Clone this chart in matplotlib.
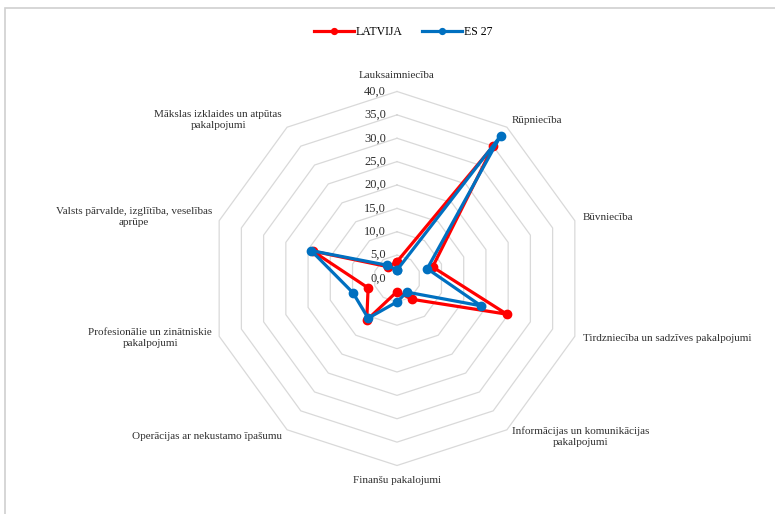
import numpy as np
import matplotlib
matplotlib.use("Agg")
import matplotlib.pyplot as plt
from matplotlib.patches import Rectangle

plt.rcParams['font.family'] = ['Liberation Serif', 'DejaVu Serif']

categories = [
    "Lauksaimniecība",
    "Rūpniecība",
    "Būvniecība",
    "Tirdzniecība un sadzīves pakalpojumi",
    "Informācijas un komunikācijas\npakalpojumi",
    "Finanšu pakalojumi",
    "Operācijas ar nekustamo īpašumu",
    "Profesionālie un zinātniskie\npakalpojumi",
    "Valsts pārvalde, izglītība, veselības\naprūpe",
    "Mākslas izklaides un atpūtas\npakalpojumi",
]
latvija = [3.6, 35.0, 8.0, 24.7, 5.5, 2.8, 11.0, 6.5, 19.0, 3.1]
es27 = [1.8, 37.7, 6.8, 18.9, 3.6, 5.0, 10.5, 9.9, 19.3, 3.5]
ticks = [0, 5, 10, 15, 20, 25, 30, 35, 40]

# label offsets in pixels and alignment (per category)
lab_off = [(0, 16), (5, 7), (8, 3), (8, -2), (5, -7),
           (0, -15), (-5, -7), (-7, -2), (-7, 4), (-5, 7)]
lab_ha = ['center', 'left', 'left', 'left', 'left',
          'center', 'right', 'right', 'right', 'right']

n = len(categories)
ang = np.arange(n) * 2 * np.pi / n
ang_c = np.append(ang, ang[0])

fig = plt.figure(figsize=(7.75, 5.14), dpi=100)
fig.patches.append(Rectangle((5 / 775, -0.1), 1.2, 1 - 8 / 514 + 0.1,
                             transform=fig.transFigure, fill=False,
                             edgecolor='#d0d0d0', lw=1.2))

ax = fig.add_axes([210 / 775, 48.5 / 514, 374 / 775, 374 / 514], projection='polar')
ax.set_theta_zero_location('N')
ax.set_theta_direction(-1)
ax.set_ylim(0, 40)
ax.grid(False)
ax.spines['polar'].set_visible(False)
ax.set_xticks([])
ax.set_yticks([])
ax.patch.set_alpha(0)

# decagon grid
for t in ticks[1:]:
    ax.plot(ang_c, [t] * (n + 1), color='#d9d9d9', lw=0.9, zorder=1, clip_on=False)

for t in ticks:
    ax.annotate(f"{t:.1f}".replace('.', ','), xy=(0, t), xytext=(-11, 0),
                textcoords='offset pixels', ha='right', va='center',
                fontsize=9, color='#303030')

for i, c in enumerate(categories):
    ax.annotate(c, xy=(ang[i], 40), xytext=lab_off[i], textcoords='offset pixels',
                ha=lab_ha[i], va='center', multialignment='center',
                fontsize=8, color='#303030', annotation_clip=False,
                linespacing=1.3)

l1, = ax.plot(ang_c, latvija + latvija[:1], color='#ff0000', lw=2.3,
              marker='o', ms=6, label='LATVIJA', zorder=3, clip_on=False)
l2, = ax.plot(ang_c, es27 + es27[:1], color='#0070c0', lw=2.3,
              marker='o', ms=6, label='ES 27', zorder=4, clip_on=False)

fig.legend(handles=[l1, l2], loc='center', bbox_to_anchor=(403 / 775, 1 - 32 / 514),
           ncol=2, frameon=False, fontsize=8.5, handlelength=3.4, markerscale=0.7,
           columnspacing=1.6, handletextpad=0.15)

fig.savefig('out.png', dpi=100)
